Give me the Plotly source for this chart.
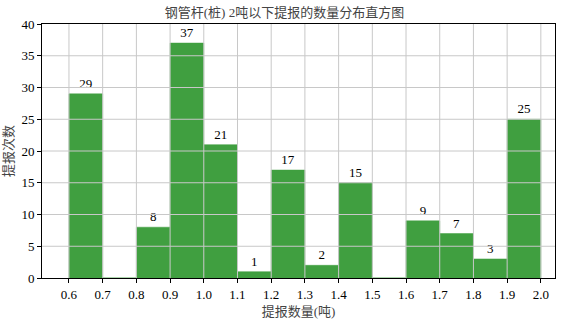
import plotly.graph_objects as go

bin_left = [0.6, 0.7, 0.8, 0.9, 1.0, 1.1, 1.2, 1.3, 1.4, 1.5, 1.6, 1.7, 1.8, 1.9]
counts = [29, 0, 8, 37, 21, 1, 17, 2, 15, 0, 9, 7, 3, 25]
x_ticks = [0.6, 0.7, 0.8, 0.9, 1.0, 1.1, 1.2, 1.3, 1.4, 1.5, 1.6, 1.7, 1.8, 1.9, 2.0]
x_tick_labels = ["0.6", "0.7", "0.8", "0.9", "1.0", "1.1", "1.2", "1.3", "1.4", "1.5", "1.6", "1.7", "1.8", "1.9", "2.0"]
y_ticks = [0, 5, 10, 15, 20, 25, 30, 35, 40]

font_fam = "Liberation Serif, Noto Sans CJK SC, serif"
grid_col = "#c8c8c8"

centers = [b + 0.05 for b in bin_left]
texts = [str(c) if c > 0 else "" for c in counts]

fig = go.Figure(go.Bar(
    x=centers, y=counts, width=0.1,
    marker=dict(color="#409f40", line=dict(color="#409f40", width=0.5)),
    text=texts, textposition="outside", cliponaxis=False,
    textfont=dict(family=font_fam, size=13, color="black"),
))

# grid lines drawn above the bars (as in the reference)
for xv in x_ticks:
    fig.add_shape(type="line", xref="x", yref="paper", x0=xv, x1=xv, y0=0, y1=1,
                  line=dict(color=grid_col, width=1), layer="above")
for yv in y_ticks[1:-1]:
    fig.add_shape(type="line", xref="paper", yref="y", x0=0, x1=1, y0=yv, y1=yv,
                  line=dict(color=grid_col, width=1), layer="above")

fig.update_layout(
    width=569, height=319,
    margin=dict(l=42, r=14, t=24, b=41),
    paper_bgcolor="white", plot_bgcolor="white",
    showlegend=False,
    title=dict(text="钢管杆(桩) 2吨以下提报的数量分布直方图", x=0.5, xanchor="center",
               y=1 - 12 / 319, yanchor="middle",
               font=dict(family=font_fam, size=13, color="#444")),
    font=dict(family=font_fam, size=13, color="black"),
)
fig.update_xaxes(
    range=[0.52, 2.042], tickvals=x_ticks, ticktext=x_tick_labels,
    showgrid=False,
    showline=True, linecolor="black", linewidth=1, mirror=True,
    ticks="outside", ticklen=4, tickcolor="black",
    zeroline=False, layer="above traces", automargin=False,
    title=dict(text="提报数量(吨)", font=dict(family=font_fam, size=13, color="#444"), standoff=6),
    tickfont=dict(family=font_fam, size=13, color="black"),
)
fig.update_yaxes(
    range=[0, 40], tickvals=y_ticks,
    showgrid=False,
    showline=True, linecolor="black", linewidth=1, mirror=True,
    ticks="outside", ticklen=4, tickcolor="black",
    zeroline=False, layer="above traces", automargin=False,
    title=dict(text="提报次数", font=dict(family=font_fam, size=13, color="#444"), standoff=4),
    tickfont=dict(family=font_fam, size=13, color="black"),
)

fig.write_html("out.html", config={"displayModeBar": False},
               post_script="document.body.style.margin='0px';document.body.style.overflow='hidden';")
